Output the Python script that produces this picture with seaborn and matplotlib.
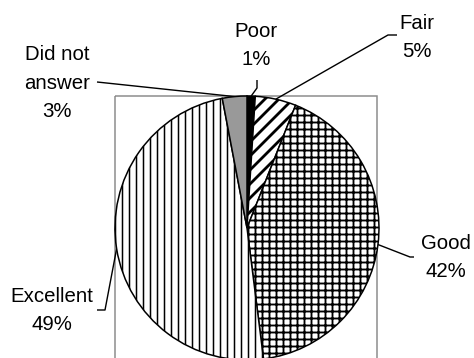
import numpy as np
import matplotlib
matplotlib.use("Agg")
import matplotlib.pyplot as plt
from matplotlib.patches import Rectangle
import seaborn as sns

# Survey ratings, drawn clockwise from 12 o'clock
categories = ["Poor", "Fair", "Good", "Excellent", "Did not\nanswer"]
shares = [1, 5, 42, 49, 3]
pct_labels = ["1%", "5%", "42%", "49%", "3%"]

sns.set_theme(style="white")
plt.rcParams["font.family"] = ["Liberation Sans", "DejaVu Sans"]

DPI = 84
W, H = 474, 358
fig = plt.figure(figsize=(W / DPI, H / DPI), dpi=DPI)
fig.patch.set_facecolor("white")

# pie geometry in pixels
cx, cy, r = 247, 228, 132

# background layer in pixel coordinates: frame, leader lines, labels
bg = fig.add_axes([0, 0, 1, 1], zorder=0)
bg.set_xlim(0, W)
bg.set_ylim(H, 0)
bg.axis("off")
bg.add_patch(Rectangle((115, 96), 262, 300, fill=False,
                       edgecolor="#8c8c8c", linewidth=1.3, clip_on=False))

# pie layer
ax = fig.add_axes([(cx - r) / W, (H - (cy + r)) / H, 2 * r / W, 2 * r / H], zorder=1)
ax.set_facecolor("none")
faces = ["black", "white", "white", "white", "#999999"]
hatches = [None, "//", "++", "||", None]
hatch_lw = [1.0, 2.4, 1.6, 1.3, 1.0]
wedges, _ = ax.pie(shares, startangle=90, counterclock=False, radius=1,
                   colors=faces,
                   wedgeprops=dict(edgecolor="black", linewidth=1.3))
for w, h, lw in zip(wedges, hatches, hatch_lw):
    if h:
        w.set_hatch(h)
        if hasattr(w, "set_hatch_linewidth"):
            w.set_hatch_linewidth(lw)
ax.set_xlim(-1, 1)
ax.set_ylim(-1, 1)
ax.set_aspect("auto")
ax.axis("off")

# rim anchor of each slice at its middle angle (clockwise from top)
frac = np.array(shares, dtype=float) / sum(shares)
mids = np.cumsum(frac) - frac / 2
theta = 2 * np.pi * mids
rim_x = cx + r * np.sin(theta)
rim_y = cy - r * np.cos(theta)

# label text position (center x, last baseline y) and leader elbows
text_pos = [(256, 65), (417, 57), (446, 277), (52, 330), (57, 117)]
elbows = [
    [(257, 88), (257, 80)],
    [(388, 35), (397, 35)],
    [(410, 257), (414, 257)],
    [(105, 310), (97, 310)],
    [(97, 82)],
]

for i, (cat, pct) in enumerate(zip(categories, pct_labels)):
    pts = [(rim_x[i], rim_y[i])] + elbows[i]
    xs, ys = zip(*pts)
    bg.plot(xs, ys, color="black", linewidth=1.2, solid_capstyle="butt")
    tx, ty = text_pos[i]
    bg.text(tx, ty, f"{cat}\n{pct}", ha="center", va="baseline",
            fontsize=17.5, color="black", linespacing=1.62,
            multialignment="center")

fig.savefig("out.png", dpi=DPI, facecolor="white")
